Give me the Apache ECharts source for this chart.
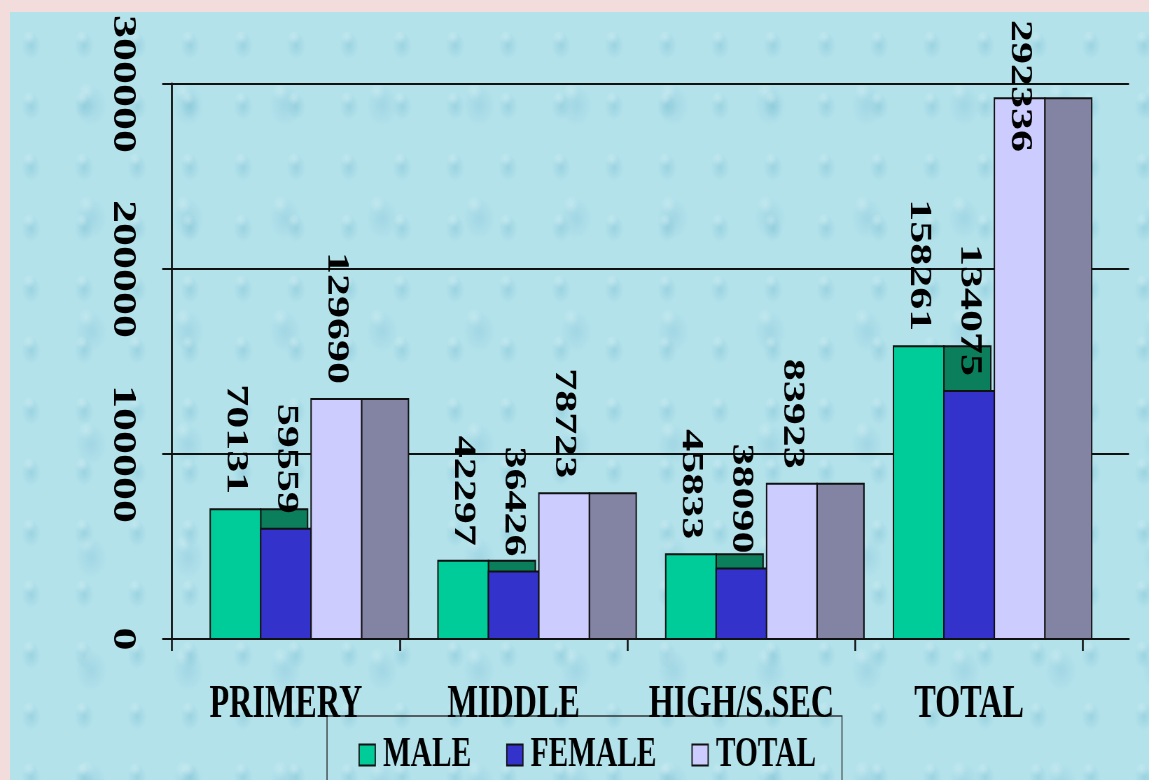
<!DOCTYPE html>
<html>
<head>
<meta charset="utf-8">
<script src="https://cdn.jsdelivr.net/npm/echarts@6/dist/echarts.min.js"></script>
<style>
  html, body { margin: 0; padding: 0; width: 1149px; height: 780px; overflow: hidden; background: #f2dcdc; }
  #paper {
    position: absolute; left: 10px; top: 12px; width: 1139px; height: 768px;
    background-color: #b3e2eb;
    background-image:
      radial-gradient(ellipse 12px 17px at 40% 55%, rgba(105,180,202,0.32), rgba(105,180,202,0) 80%),
      radial-gradient(ellipse 7px 8px at 36% 42%, rgba(240,252,253,0.4), rgba(240,252,253,0) 85%),
      radial-gradient(ellipse 20px 26px at 60% 50%, rgba(115,185,207,0.28), rgba(115,185,207,0) 80%),
      radial-gradient(ellipse 9px 11px at 55% 38%, rgba(235,250,252,0.35), rgba(235,250,252,0) 85%);
    background-size: 53px 61px, 53px 61px, 97px 113px, 97px 113px;
    background-position: 0 0, 0 0, 23px 37px, 23px 37px;
  }
  /* the chart is laid out wide, then narrowed horizontally */
  #chart { position: absolute; left: 0; top: 0; width: 1641px; height: 780px; transform: scaleX(0.70018); transform-origin: 0 0; }
</style>
</head>
<body>
<div id="paper"></div>
<div id="chart"></div>
<script>
// Enrolment by school level
const categories = ['PRIMERY', 'MIDDLE', 'HIGH/S.SEC', 'TOTAL'];
const seriesNames = ['MALE', 'FEMALE', 'TOTAL'];
const maleValues = [70131, 42297, 45833, 158261];
const femaleValues = [59559, 36426, 38090, 134075];
const totalValues = [129690, 78723, 83923, 292336];
const yMin = 0, yMax = 300000, yStep = 100000;

const frontColors = ['#00cc99', '#3333cc', '#ccccff'];
const sideColors = ['#0b7f5b', '#22228c', '#8383a3'];

const W = 1641;
const S = 1149 / W;            // horizontal squeeze applied by CSS
const sx = x => x / S;         // screen x -> layout x

const SERIF = '"Liberation Serif", "Times New Roman", serif';
const LABEL_FONT = 'bold 44px ' + SERIF;
const measureCtx = document.createElement('canvas').getContext('2d');
measureCtx.font = LABEL_FONT;

const FRONT_RATIO = 0.2215;    // front face width / category band
const SIDE_RATIO = 0.206;      // side (depth) face width / category band

function makeRenderer(k) {
  return function (params, api) {
    const idx = api.value(0);
    const v = api.value(1);
    const top = api.coord([idx, v]);
    const base = api.coord([idx, 0]);
    const band = api.size([1, 0])[0];
    const fw = band * FRONT_RATIO;
    const sw = band * SIDE_RATIO;
    const x0 = top[0] - 1.5 * fw + k * fw;
    const h = base[1] - top[1];
    const txt = String(v);
    const len = measureCtx.measureText(txt).width;
    let ty = top[1] - 15, align = 'right';
    if (ty - len < 20) { ty = 20; align = 'left'; }
    return {
      type: 'group',
      children: [
        { type: 'rect', shape: { x: x0 + fw, y: top[1], width: sw, height: h },
          style: { fill: sideColors[k], stroke: '#111', lineWidth: 2 } },
        { type: 'rect', shape: { x: x0, y: top[1], width: fw, height: h },
          style: { fill: frontColors[k], stroke: '#111', lineWidth: 2 } },
        { type: 'text', x: x0 + fw / 2, y: ty, rotation: -Math.PI / 2, z2: 10,
          style: { text: txt, font: LABEL_FONT, fill: '#000', align: align, verticalAlign: 'middle' } }
      ]
    };
  };
}

const valueLists = [maleValues, femaleValues, totalValues];
const series = valueLists.map((vals, k) => ({
  type: 'custom',
  name: seriesNames[k],
  xAxisIndex: 0,
  yAxisIndex: 0,
  z: 2 + k,
  itemStyle: { color: frontColors[k] },
  renderItem: makeRenderer(k),
  encode: { x: 0, y: 1 },
  data: vals.map((v, i) => [i, v])
}));

const chart = echarts.init(document.getElementById('chart'), null, { renderer: 'canvas', width: W, height: 780 });

const gridTop = 84, gridHeight = 555;

chart.setOption({
  backgroundColor: 'transparent',
  animation: false,
  grid: [
    { left: sx(172), top: gridTop, width: sx(1083) - sx(172), height: gridHeight },
    { left: sx(172), top: gridTop, width: sx(1129) - sx(172), height: gridHeight }
  ],
  xAxis: [
    {
      type: 'category', gridIndex: 0, data: categories,
      axisLine: { show: true, lineStyle: { color: '#111', width: 2 } },
      axisTick: { show: true, interval: 0, length: 12, lineStyle: { color: '#111', width: 2.6 } },
      axisLabel: { interval: 0, margin: 43, fontFamily: SERIF, fontWeight: 'bold', fontSize: 46, color: '#000' },
      splitLine: { show: false }
    },
    {
      type: 'value', gridIndex: 1, min: 0, max: 1,
      axisLine: { show: true, lineStyle: { color: '#111', width: 2 } },
      axisTick: { show: false }, axisLabel: { show: false }, splitLine: { show: false }
    }
  ],
  yAxis: [
    { type: 'value', gridIndex: 0, min: yMin, max: yMax, interval: yStep, show: false },
    {
      type: 'value', gridIndex: 1, min: yMin, max: yMax, interval: yStep,
      axisLine: { show: true, lineStyle: { color: '#111', width: 2.8 } },
      axisTick: { show: true, length: 14, lineStyle: { color: '#111', width: 2 } },
      splitLine: { show: true, lineStyle: { color: '#111', width: 2 } },
      axisLabel: { rotate: -90, margin: 48, fontFamily: SERIF, fontWeight: 'bold', fontSize: 46, color: '#000',
        formatter: v => String(v) }
    }
  ],
  legend: {
    data: seriesNames,
    left: sx(355), top: 729,
    orient: 'horizontal',
    icon: 'rect',
    itemWidth: 23, itemHeight: 21, itemGap: 50,
    itemStyle: { borderColor: '#111', borderWidth: 1.8 },
    textStyle: { fontFamily: SERIF, fontWeight: 'bold', fontSize: 42, color: '#000', padding: [0, 0, 0, 6] },
    selectedMode: false
  },
  graphic: [
    { type: 'rect', z: 0, silent: true,
      shape: { x: sx(327), y: 716, width: sx(842) - sx(327), height: 120 },
      style: { fill: 'none', stroke: '#333', lineWidth: 1.5 } }
  ],
  series: series
});
</script>
</body>
</html>
